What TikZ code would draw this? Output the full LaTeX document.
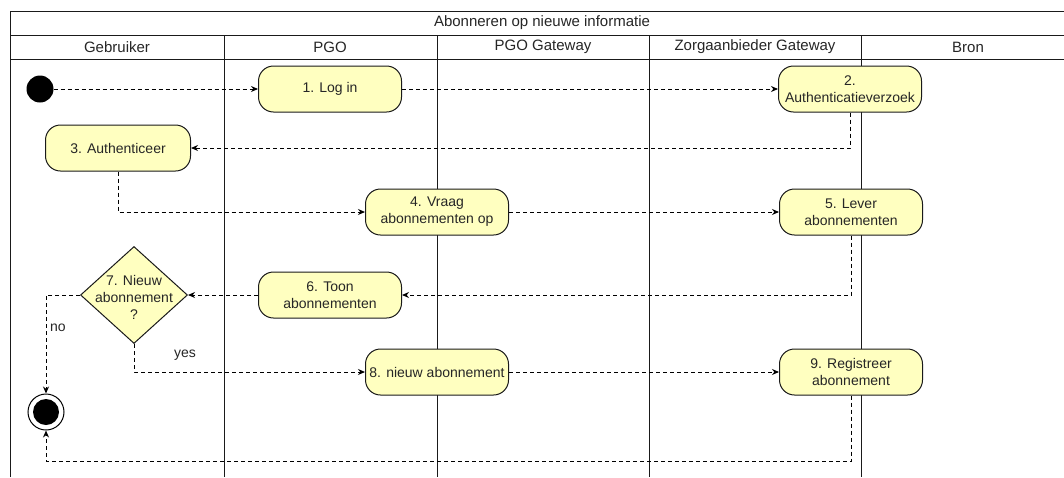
\documentclass[tikz,border=0pt]{standalone}
\usepackage{fontspec}
\setmainfont{Liberation Sans}
\usetikzlibrary{shapes.geometric,arrows.meta}
\definecolor{actfill}{HTML}{FFFFC0}
\definecolor{inkline}{HTML}{1A1A1A}
\definecolor{inktext}{HTML}{262626}
\begin{document}
\begin{tikzpicture}[x=1pt,y=-1pt,
  font=\fontsize{14}{17}\selectfont, text=inktext,
  lane/.style={draw=inkline, line width=1pt},
  head/.style={font=\fontsize{15}{18}\selectfont, anchor=center},
  act/.style={draw=inkline, fill=actfill, line width=1pt, rounded corners=15pt,
    minimum width=143pt, minimum height=46pt, align=center, inner sep=1pt},
  decision/.style={diamond, draw=inkline, fill=actfill, line width=1pt,
    minimum width=107pt, minimum height=97pt, inner sep=0pt},
  flow/.style={draw=black, line width=1pt, dash pattern=on 4pt off 3pt,
    -{Stealth[length=7pt,width=6pt]}},
  edgelabel/.style={font=\fontsize{14}{17}\selectfont, inner sep=0pt}
]
\clip (0,0) rectangle (1064,477);
\fill[white] (0,0) rectangle (1064,477);

% pool frame, title row and lane header row
\draw[lane] (10,477) -- (10,11) -- (1080,11);
\draw[lane] (10,35) -- (1080,35);
\draw[lane] (10,59) -- (1080,59);
\foreach \lx in {224,437,649,861}
  \draw[lane] (\lx,35) -- (\lx,477);

\node[head] (pool) at (542,23) {Abonneren op nieuwe informatie};
\node[head] (l1) at (117,47) {Gebruiker};
\node[head] (l2) at (330,47) {PGO};
\node[head] (l3) at (543,47) {PGO Gateway};
\node[head] (l4) at (755,47) {Zorgaanbieder Gateway};
\node[head] (l5) at (968,47) {Bron};

% activities
\node[circle, fill=black, minimum size=27pt, inner sep=0pt] (start) at (40,89) {};
\node[act] (a1) at (330,89) {1. Log in};
\node[act] (a2) at (850,89) {2.\\Authenticatieverzoek};
\node[act, minimum width=145pt] (a3) at (118,148) {3. Authenticeer};
\node[act] (a4) at (437,212) {4. Vraag\\abonnementen op};
\node[act] (a5) at (851,212) {5. Lever\\abonnementen};
\node[act] (a6) at (330,295) {6. Toon\\abonnementen};
\node[decision] (d7) at (134,295) {};
\node[align=center, inner sep=0pt] (t7) at (134,297) {7. Nieuw\\abonnement\\?};
\node[act] (a8) at (437,372) {8. nieuw abonnement};
\node[act] (a9) at (851,372) {9. Registreer\\abonnement};
\node[circle, draw=black, fill=white, line width=1pt, minimum size=36pt, inner sep=0pt] (end) at (46,412) {};
\fill[black] (end.center) circle (13);

\coordinate (bottom) at (0,461);

% control flow
\draw[flow] (start) -- (a1);
\draw[flow] (a1) -- (a2);
\draw[flow] (a2.south) |- (a3.east);
\draw[flow] (a3.south) |- (a4.west);
\draw[flow] (a4) -- (a5);
\draw[flow] (a5.south) |- (a6.east);
\draw[flow] (a6.west) -- (d7.east);
\draw[flow] (d7.west) -| (end.north);
\draw[flow] (d7.south) |- (a8.west);
\draw[flow] (a8) -- (a9);
\draw[flow] (a9.south) -- (a9.south |- bottom) -| (end.south);

\node[edgelabel, anchor=west] (no) at (50,328) {no};
\node[edgelabel, anchor=west] (yes) at (174,355) {yes};
\end{tikzpicture}
\end{document}
